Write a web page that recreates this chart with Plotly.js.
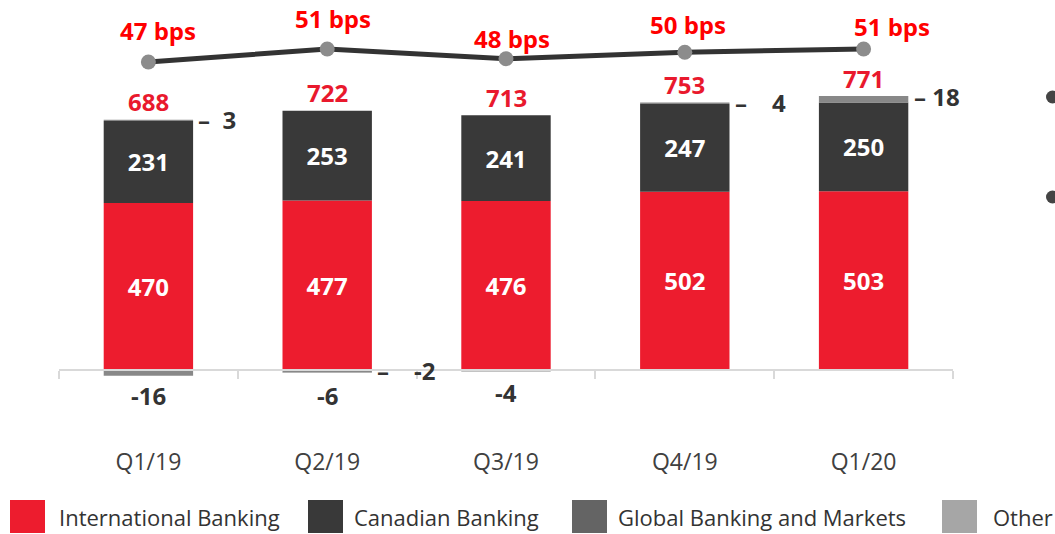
<!DOCTYPE html>
<html>
<head>
<meta charset="utf-8">
<script src="https://cdn.plot.ly/plotly-3.0.1.min.js"></script>
<style>html,body{margin:0;padding:0;background:#fff;}#chart{width:1055px;height:534px;}</style>
</head>
<body>
<div id="chart"></div>
<script>
// ---- data ----
const quarters = ["Q1/19", "Q2/19", "Q3/19", "Q4/19", "Q1/20"];
const internationalBanking = [470, 477, 476, 502, 503];
const canadianBanking = [231, 253, 241, 247, 250];
const globalBankingMarkets = [3, -6, -4, 4, 18];
const other = [-16, -2, 0, 0, 0];
const totals = [688, 722, 713, 753, 771];
const pclRatioBps = [47, 51, 48, 50, 51];

// ---- layout geometry ----
const W = 1055, H = 534;
const M = {l: 59, r: 102, t: 0, b: 114};
const PW = W - M.l - M.r, PH = H - M.t - M.b;
const px = x => (x - M.l) / PW;
const py = y => (M.t + PH - y) / PH;

const RED = "#ed1c2e", DARK = "#393939", SEG = "#888888";
const FONT = "Open Sans, sans-serif";

const traces = [
  {type: "bar", name: "International Banking", x: quarters, y: internationalBanking,
   marker: {color: RED}, text: internationalBanking.map(String), textposition: "inside",
   insidetextanchor: "middle", textangle: 0, constraintext: "none",
   textfont: {family: FONT, size: 24, color: "#ffffff", weight: 700}, hoverinfo: "x+y"},
  {type: "bar", name: "Canadian Banking", x: quarters, y: canadianBanking,
   marker: {color: DARK}, text: canadianBanking.map(String), textposition: "inside",
   insidetextanchor: "middle", textangle: 0, constraintext: "none",
   textfont: {family: FONT, size: 24, color: "#ffffff", weight: 700}, hoverinfo: "x+y"},
  {type: "bar", name: "Global Banking and Markets", x: quarters, y: globalBankingMarkets,
   marker: {color: SEG}, textposition: "none"},
  {type: "bar", name: "Other", x: quarters, y: other,
   marker: {color: SEG}, textposition: "none"},
  {type: "scatter", mode: "lines+markers", name: "PCL ratio", x: quarters, y: pclRatioBps,
   yaxis: "y2", line: {color: "#333333", width: 5},
   marker: {color: "#8c8c8c", size: 15}}
];

const annotations = [];
const posTop = quarters.map((q, i) =>
  internationalBanking[i] + canadianBanking[i] +
  Math.max(0, globalBankingMarkets[i]) + Math.max(0, other[i]));
const negBottom = quarters.map((q, i) =>
  Math.min(0, globalBankingMarkets[i]) + Math.min(0, other[i]));

// totals
quarters.forEach((q, i) => {
  annotations.push({x: q, y: posTop[i], xref: "x", yref: "y", text: String(totals[i]),
    showarrow: false, yanchor: "middle", yshift: 18,
    font: {family: FONT, size: 24, color: "#e9192d", weight: 700}});
});
// bps labels
const bpsShift = [10, 6, 6, 3, 28];
const bpsY = [32, 31, 20, 28, 23];
quarters.forEach((q, i) => {
  annotations.push({x: q, y: pclRatioBps[i], xref: "x", yref: "y2", text: pclRatioBps[i] + " bps",
    showarrow: false, yanchor: "middle", yshift: bpsY[i], xshift: bpsShift[i],
    font: {family: FONT, size: 24, color: "#ff0000", weight: 700}});
});
// small segment labels
const lblFont = {family: FONT, size: 24, color: "#333333", weight: 700};
// right-side labels
annotations.push({x: quarters[0], y: posTop[0], text: "–  " + globalBankingMarkets[0], showarrow: false,
  xanchor: "left", yanchor: "middle", xshift: 48, font: lblFont});
annotations.push({x: quarters[1], y: 0, text: "–    " + other[1], showarrow: false,
  xanchor: "left", yanchor: "middle", xshift: 48, font: lblFont});
annotations.push({x: quarters[3], y: posTop[3], text: "–    " + globalBankingMarkets[3], showarrow: false,
  xanchor: "left", yanchor: "middle", xshift: 48, font: lblFont});
annotations.push({x: quarters[4], y: posTop[4], text: "– " + globalBankingMarkets[4], showarrow: false,
  xanchor: "left", yanchor: "middle", xshift: 48, font: lblFont});
// below labels
annotations.push({x: quarters[0], y: negBottom[0], text: String(other[0]), showarrow: false,
  yanchor: "middle", yshift: -20, font: lblFont});
annotations.push({x: quarters[1], y: 0, text: String(globalBankingMarkets[1]), showarrow: false,
  yanchor: "middle", yshift: -25, font: lblFont});
annotations.push({x: quarters[2], y: 0, text: String(globalBankingMarkets[2]), showarrow: false,
  yanchor: "middle", yshift: -22, font: lblFont});

// custom legend
const legendItems = [
  {name: "International Banking", color: RED, sq: 10, tx: 57},
  {name: "Canadian Banking", color: DARK, sq: 308, tx: 352},
  {name: "Global Banking and Markets", color: "#646464", sq: 572, tx: 616},
  {name: "Other", color: "#a6a6a6", sq: 942, tx: 991}
];
const shapes = [];
legendItems.forEach(it => {
  shapes.push({type: "rect", xref: "paper", yref: "paper", x0: px(it.sq), x1: px(it.sq + 35),
    y0: py(533), y1: py(500), fillcolor: it.color, line: {width: 0}});
  annotations.push({xref: "paper", yref: "paper", x: px(it.tx), y: py(517), xanchor: "left",
    yanchor: "middle", text: it.name, showarrow: false,
    font: {family: FONT, size: 22, color: "#333333"}});
});
// cut-off bullets at right edge
[97, 197].forEach(cy => {
  shapes.push({type: "circle", xref: "paper", yref: "paper", x0: px(1046), x1: px(1059),
    y0: py(cy + 6.5), y1: py(cy - 6.5), fillcolor: "#444444", line: {width: 0}});
});

// y scale: zero at pixel 370, 0.3553 px per unit
const pxPerUnit = 0.3553;
const zeroPx = 370;
const yRange = [-(M.t + PH - zeroPx) / pxPerUnit, (zeroPx - M.t) / pxPerUnit];
// y2 scale: 47 at pixel 62, 3.25 px per bp
const y2Range = [47 - (M.t + PH - 62) / 3.25, 47 + (62 - M.t) / 3.25];

const layout = {
  width: W, height: H, margin: M,
  paper_bgcolor: "#ffffff", plot_bgcolor: "#ffffff",
  barmode: "relative", bargap: 0.5, showlegend: false,
  font: {family: FONT},
  xaxis: {type: "category", range: [-0.5, 4.5], anchor: "free", position: (M.t + PH - zeroPx) / PH,
    showline: true, linecolor: "#d9d9d9", linewidth: 2, ticks: "outside", tickson: "boundaries",
    ticklen: 8, tickcolor: "#d9d9d9", tickwidth: 2, showgrid: false, zeroline: false,
    ticklabelstandoff: 71, tickfont: {family: FONT, size: 23, color: "#404040"}},
  yaxis: {range: yRange, visible: false, showgrid: false, zeroline: false},
  yaxis2: {range: y2Range, overlaying: "y", visible: false, showgrid: false, zeroline: false},
  annotations: annotations, shapes: shapes
};

Plotly.newPlot("chart", traces, layout, {displayModeBar: false, staticPlot: true});
</script>
</body>
</html>
